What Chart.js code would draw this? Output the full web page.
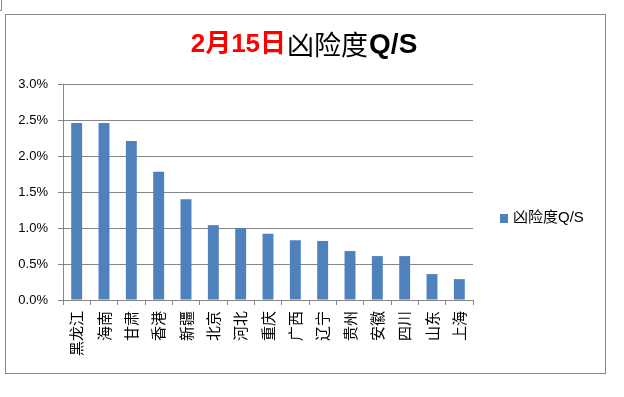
<!DOCTYPE html>
<html><head><meta charset="utf-8">
<script src="https://cdn.jsdelivr.net/npm/chart.js"></script>
<style>html,body{margin:0;padding:0;background:#fff;}#wrap{width:624px;height:397px;position:relative;}</style>
</head><body><div id="wrap"><canvas id="c" width="624" height="397"></canvas></div>
<script>
const categories = ['黑龙江','海南','甘肃','香港','新疆','北京','河北','重庆','广西','辽宁','贵州','安徽','四川','山东','上海'];
const values = [2.46, 2.46, 2.21, 1.78, 1.40, 1.04, 1.00, 0.92, 0.83, 0.82, 0.68, 0.61, 0.61, 0.36, 0.29];
const seriesName = '凶险度Q/S';
const titleRed = '2月15日';
const titleBlackCJK = '凶险度';
const titleBlackLatin = 'Q/S';

const GRID = '#868686';
const BAR = '#4F81BD';
const LATIN = '"Liberation Sans", "Noto Sans CJK SC", sans-serif';
const CJK = '"Noto Sans CJK SC", sans-serif';

const decor = {
  id: 'decor',
  afterDraw(chart) {
    const ctx = chart.ctx;
    ctx.save();
    // outer frame
    ctx.strokeStyle = '#888888';
    ctx.lineWidth = 1;
    ctx.strokeRect(5.5, 14.5, 600, 359);
    ctx.beginPath();
    ctx.moveTo(1.5, 0); ctx.lineTo(1.5, 10.5); ctx.lineTo(0, 10.5);
    ctx.stroke();
    // title
    const parts = [
      {t: titleRed, f: 'bold 26px ' + LATIN, c: '#FF0000'},
      {t: titleBlackCJK, f: '27px ' + CJK, c: '#000000', gap: 1},
      {t: titleBlackLatin, f: 'bold 28px ' + LATIN, c: '#000000', gap: 1}
    ];
    let total = 0;
    parts.forEach(p => { ctx.font = p.f; p.w = ctx.measureText(p.t).width; total += p.w + (p.gap || 0); });
    let x = 304 - total / 2;
    ctx.textBaseline = 'middle';
    ctx.textAlign = 'left';
    parts.forEach(p => { x += (p.gap || 0); ctx.font = p.f; ctx.fillStyle = p.c; ctx.fillText(p.t, x, 45); x += p.w; });
    // legend
    const ds = chart.data.datasets[0];
    ctx.fillStyle = ds.backgroundColor;
    ctx.fillRect(500, 214, 8, 9);
    ctx.fillStyle = '#000';
    ctx.font = '15px ' + LATIN;
    ctx.fillText(ds.label, 513, 218);
    ctx.restore();
  }
};

new Chart(document.getElementById('c'), {
  type: 'bar',
  data: {
    labels: categories,
    datasets: [{label: seriesName, data: values, backgroundColor: BAR, borderWidth: 0,
      barPercentage: 0.4, categoryPercentage: 1.0}]
  },
  options: {
    responsive: false,
    devicePixelRatio: 1,
    animation: false,
    layout: {padding: {top: 84, right: 151, left: 0, bottom: 0}},
    plugins: {legend: {display: false}, tooltip: {enabled: false}, title: {display: false}},
    scales: {
      x: {
        grid: {offset: true, drawOnChartArea: false, tickLength: 5, color: GRID},
        border: {color: GRID},
        ticks: {minRotation: 90, maxRotation: 90, autoSkip: false, color: '#000', padding: 6,
          font: {family: CJK, size: 15}},
        afterFit(s) { s.height = 97; }
      },
      y: {
        min: 0, max: 3,
        grid: {color: GRID, tickLength: 5},
        border: {color: GRID},
        ticks: {stepSize: 0.5, color: '#000', padding: 10, font: {family: LATIN, size: 13},
          callback: v => v.toFixed(1) + '%'},
        afterFit(s) { s.width = 63; }
      }
    }
  },
  plugins: [decor]
});
</script></body></html>
